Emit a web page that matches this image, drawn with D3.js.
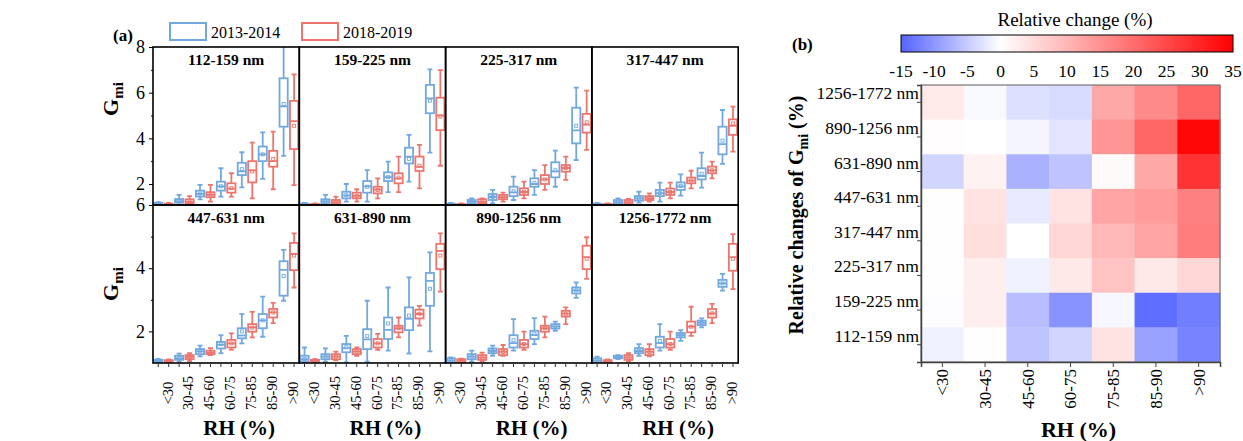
<!DOCTYPE html>
<html><head><meta charset="utf-8">
<script src="https://cdn.jsdelivr.net/npm/d3@7"></script>
<style>
html,body{margin:0;padding:0;background:#fff;}
svg{display:block;font-family:"Liberation Serif","Times New Roman",serif;}
</style></head>
<body>
<svg id="chart" width="1243" height="441"></svg>
<script>
// ---------- DATA ----------
const rhGroups = ["<30","30-45","45-60","60-75","75-85","85-90",">90"];
const sizeBins = ["112-159 nm","159-225 nm","225-317 nm","317-447 nm","447-631 nm","631-890 nm","890-1256 nm","1256-1772 nm"];
const periods = ["2013-2014","2018-2019"];
// box stats per RH group: [whiskerLow, Q1, median, Q3, whiskerHigh, mean]
const b13_112 = [[1.08,1.11,1.14,1.17,1.21,1.14],[1.08,1.18,1.25,1.34,1.52,1.26],[1.33,1.45,1.57,1.71,1.96,1.58],[1.45,1.71,1.9,2.1,2.69,1.9],[1.85,2.39,2.55,2.93,3.39,2.65],[2.22,3.0,3.3,3.64,4.26,3.3],[3.23,4.51,5.4,6.63,8.6,5.5]];
const b18_112 = [[1.08,1.1,1.12,1.14,1.17,1.12],[1.08,1.15,1.22,1.33,1.47,1.23],[1.23,1.42,1.52,1.64,1.96,1.53],[1.45,1.62,1.8,2.03,2.47,1.82],[1.37,2.07,2.6,3.0,3.81,2.55],[1.77,2.76,3.0,3.45,4.29,3.1],[1.95,3.53,4.75,5.64,6.8,4.55]];
const b13_159 = [[1.08,1.1,1.12,1.14,1.17,1.12],[1.08,1.15,1.24,1.33,1.52,1.24],[1.23,1.37,1.5,1.66,2.0,1.51],[1.23,1.62,1.9,2.13,2.61,1.88],[1.64,2.13,2.3,2.51,2.98,2.3],[2.1,2.9,3.2,3.59,4.15,3.1],[3.37,5.1,5.75,6.34,7.02,5.65]];
const b18_159 = [[1.08,1.09,1.1,1.12,1.14,1.1],[1.08,1.12,1.2,1.3,1.45,1.21],[1.23,1.37,1.48,1.62,1.77,1.48],[1.37,1.59,1.75,1.88,2.25,1.74],[1.64,2.03,2.25,2.47,3.2,2.28],[1.81,2.57,2.75,3.2,3.71,2.8],[2.8,4.36,5.0,5.78,6.99,4.95]];
const b13_225 = [[1.08,1.1,1.12,1.14,1.17,1.12],[1.08,1.15,1.22,1.3,1.37,1.22],[1.15,1.3,1.43,1.56,1.74,1.43],[1.3,1.47,1.63,1.88,2.32,1.68],[1.52,1.88,2.0,2.25,2.61,2.05],[1.88,2.29,2.55,2.95,3.46,2.6],[3.05,3.78,4.35,5.34,6.22,4.55]];
const b18_225 = [[1.08,1.09,1.1,1.12,1.14,1.1],[1.08,1.15,1.22,1.33,1.37,1.23],[1.23,1.33,1.42,1.52,1.62,1.42],[1.37,1.52,1.65,1.81,2.1,1.66],[1.74,2.0,2.2,2.39,2.83,2.2],[2.18,2.54,2.7,2.83,3.2,2.7],[3.49,4.25,4.6,5.07,6.09,4.7]];
const b13_317 = [[1.08,1.1,1.12,1.14,1.17,1.12],[1.08,1.12,1.2,1.3,1.37,1.2],[1.18,1.27,1.37,1.47,1.66,1.37],[1.23,1.47,1.6,1.74,2.06,1.6],[1.49,1.74,1.9,2.07,2.42,1.92],[1.84,2.2,2.35,2.69,3.37,2.45],[2.88,3.3,3.75,4.51,5.24,3.9]];
const b18_317 = [[1.08,1.09,1.1,1.12,1.14,1.1],[1.08,1.12,1.2,1.3,1.35,1.2],[1.23,1.3,1.38,1.47,1.59,1.38],[1.37,1.52,1.65,1.8,2.06,1.65],[1.81,2.03,2.15,2.28,2.58,2.15],[2.25,2.47,2.6,2.76,2.98,2.6],[3.42,4.15,4.55,4.83,5.39,4.65]];
const b13_447 = [[1.02,1.04,1.07,1.1,1.13,1.07],[1.04,1.1,1.15,1.23,1.3,1.16],[1.21,1.28,1.37,1.44,1.55,1.37],[1.31,1.46,1.58,1.67,1.88,1.6],[1.62,1.78,1.87,2.1,2.55,2.0],[1.83,2.1,2.35,2.55,3.1,2.35],[2.97,3.13,3.95,4.22,4.58,3.75]];
const b18_447 = [[1.03,1.05,1.07,1.09,1.11,1.07],[1.06,1.12,1.19,1.25,1.31,1.19],[1.25,1.28,1.32,1.39,1.47,1.33],[1.42,1.49,1.62,1.73,1.94,1.62],[1.81,1.99,2.13,2.23,2.62,2.12],[2.26,2.44,2.6,2.71,2.9,2.6],[3.39,3.94,4.45,4.8,5.1,4.4]];
const b13_631 = [[1.02,1.05,1.12,1.23,1.49,1.13],[1.04,1.12,1.2,1.28,1.46,1.2],[1.02,1.34,1.47,1.6,1.86,1.5],[1.04,1.44,1.75,2.07,2.97,1.85],[1.39,1.76,2.05,2.44,3.39,2.25],[1.3,2.04,2.4,2.76,3.71,2.5],[1.37,2.81,3.6,3.85,4.5,3.35]];
const b18_631 = [[1.02,1.05,1.08,1.1,1.12,1.08],[1.08,1.12,1.2,1.28,1.36,1.2],[1.23,1.28,1.36,1.44,1.49,1.36],[1.42,1.49,1.62,1.76,1.92,1.62],[1.81,1.97,2.1,2.18,2.44,2.1],[2.18,2.41,2.55,2.69,2.81,2.56],[3.26,3.97,4.55,4.77,5.1,4.4]];
const b13_890 = [[1.0,1.02,1.08,1.15,1.18,1.08],[1.04,1.12,1.2,1.28,1.39,1.2],[1.23,1.31,1.38,1.46,1.55,1.38],[1.39,1.49,1.63,1.88,2.39,1.72],[1.6,1.76,1.88,2.02,2.42,1.93],[2.02,2.09,2.16,2.23,2.31,2.16],[3.06,3.2,3.3,3.39,3.55,3.3]];
const b18_890 = [[1.01,1.02,1.07,1.12,1.14,1.07],[1.06,1.1,1.17,1.25,1.33,1.17],[1.23,1.25,1.35,1.44,1.57,1.35],[1.42,1.49,1.6,1.73,1.99,1.6],[1.81,1.99,2.1,2.18,2.47,2.1],[2.23,2.47,2.56,2.65,2.76,2.56],[3.66,3.97,4.35,4.71,4.98,4.3]];
const b13_1256 = [[1.0,1.02,1.08,1.15,1.2,1.08],[1.12,1.15,1.19,1.23,1.25,1.19],[1.23,1.31,1.38,1.47,1.6,1.39],[1.39,1.49,1.63,1.83,2.23,1.7],[1.7,1.81,1.88,1.95,2.04,1.88],[2.13,2.2,2.27,2.34,2.41,2.27],[3.29,3.41,3.52,3.63,3.82,3.52]];
const b18_1256 = [[1.02,1.03,1.06,1.09,1.11,1.06],[1.06,1.1,1.18,1.25,1.31,1.18],[1.21,1.25,1.35,1.44,1.6,1.35],[1.42,1.49,1.6,1.76,1.99,1.6],[1.86,1.97,2.15,2.31,2.78,2.15],[2.26,2.44,2.57,2.71,2.87,2.57],[3.34,3.92,4.35,4.77,5.08,4.3]];
const panelBoxes = [[b13_112,b18_112],[b13_159,b18_159],[b13_225,b18_225],[b13_317,b18_317],[b13_447,b18_447],[b13_631,b18_631],[b13_890,b18_890],[b13_1256,b18_1256]];
const topRowTicks = [2,4,6,8];
const bottomRowTicks = [2,4,6];
// heatmap: relative change (%), rows top to bottom
const heatRows = ["1256-1772 nm","890-1256 nm","631-890 nm","447-631 nm","317-447 nm","225-317 nm","159-225 nm","112-159 nm"];
const heatValues = [
  [3.0,-0.6,-3.0,-3.5,12.0,16.0,21.0],
  [0.3,0.0,-1.0,-2.5,14.5,21.0,34.0],
  [-4.0,1.8,-7.5,-5.7,0.6,12.0,28.0],
  [0.2,4.0,-2.0,4.0,12.3,13.7,17.5],
  [0.1,4.5,0.0,5.5,9.6,12.3,17.8],
  [-0.1,2.3,-1.3,3.2,8.2,3.2,5.5],
  [-0.2,2.3,-6.3,-10.5,-0.8,-14.0,-12.5],
  [-1.3,0.2,-5.7,-4.0,4.0,-9.0,-12.0]
];
const colorbarTicks = [-15,-10,-5,0,5,10,15,20,25,30,35];

// ---------- DRAW ----------
const svg = d3.select("#chart");
const blue = "rgb(114,168,224)", red = "rgb(236,118,110)";
const periodColor = d3.scaleOrdinal().domain(periods).range([blue, red]);

// Panel (a)
const ax0 = 153, ay0 = 47, pw = 146.3, ph = 158;
const x = d3.scaleBand().domain(rhGroups).range([0, pw]);
const bw = x.bandwidth();
const offs = d3.scaleOrdinal().domain(periods).range([-bw/4, bw/4]);
const boxW = 8.2, capW = 5;
const yTop = d3.scaleLinear().domain([1.08, 8]).range([ph, 0]);
const yBot = d3.scaleLinear().domain([1.0, 6]).range([ph, 0]);

const defs = svg.append("defs");
defs.append("clipPath").attr("id","pclip").append("rect").attr("x",0).attr("y",0).attr("width",pw).attr("height",ph);

sizeBins.forEach((bin, i) => {
  const r = Math.floor(i/4), c = i%4;
  const y = r === 0 ? yTop : yBot;
  const g = svg.append("g").attr("transform", `translate(${ax0 + c*pw},${ay0 + r*ph})`);
  const inner = g.append("g").attr("clip-path","url(#pclip)");
  periods.forEach((p, pi) => {
    const stats = panelBoxes[i][pi];
    const col = periodColor(p);
    stats.forEach((s, gi) => {
      const cx = x(rhGroups[gi]) + bw/2 + offs(p);
      const bg = inner.append("g").attr("stroke", col).attr("fill","none").attr("stroke-width",1.8);
      bg.append("line").attr("x1",cx).attr("x2",cx).attr("y1",y(s[0])).attr("y2",y(s[1]));
      bg.append("line").attr("x1",cx).attr("x2",cx).attr("y1",y(s[3])).attr("y2",y(s[4]));
      bg.append("line").attr("x1",cx-capW/2).attr("x2",cx+capW/2).attr("y1",y(s[0])).attr("y2",y(s[0]));
      bg.append("line").attr("x1",cx-capW/2).attr("x2",cx+capW/2).attr("y1",y(s[4])).attr("y2",y(s[4]));
      bg.append("rect").attr("x",cx-boxW/2).attr("width",boxW).attr("y",y(s[3])).attr("height",Math.max(0.5,y(s[1])-y(s[3]))).attr("fill","#fff");
      bg.append("line").attr("x1",cx-boxW/2).attr("x2",cx+boxW/2).attr("y1",y(s[2])).attr("y2",y(s[2]));
      bg.append("rect").attr("x",cx-1.5).attr("y",y(s[5])-1.5).attr("width",3).attr("height",3).attr("stroke-width",0.9);
    });
  });
  // frame
  g.append("rect").attr("width",pw).attr("height",ph).attr("fill","none").attr("stroke","#000").attr("stroke-width",1.6);
  // title
  g.append("text").attr("x",pw/2).attr("y",18).attr("text-anchor","middle").attr("font-weight","bold").attr("font-size",15.5).text(bin);
  // y axis on first column
  if (c === 0) {
    const ticks = r === 0 ? topRowTicks : bottomRowTicks;
    const ya = g.append("g").call(d3.axisLeft(y).tickValues(ticks).tickSize(4).tickFormat(d3.format("d")));
    ya.select(".domain").remove();
    ya.selectAll("text").attr("font-size",18).attr("font-family","Liberation Serif").attr("dx",-1);
    const minors = ticks.map(t=>t+1).filter(t=>t<y.domain()[1]);
    const ym = g.append("g").call(d3.axisLeft(y).tickValues(minors).tickSize(2).tickFormat(""));
    ym.select(".domain").remove();
    // axis label
    const ly = r === 0 ? 99 - ay0 : 284 - ay0 - ph;
    const t = g.append("text").attr("transform",`translate(-35,${ly}) rotate(-90)`).attr("text-anchor","middle").attr("font-weight","bold").attr("font-size",22);
    t.append("tspan").text("G");
    t.append("tspan").attr("font-size",15).attr("dy",5).text("mi");
  }
  // x axis on bottom row
  if (r === 1) {
    const tickPos = [];
    rhGroups.forEach(gr => periods.forEach(p => tickPos.push(x(gr) + bw/2 + offs(p))));
    g.selectAll("line.xt").data(tickPos).join("line").attr("class","xt")
      .attr("x1",d=>d).attr("x2",d=>d).attr("y1",ph).attr("y2",ph+4).attr("stroke","#333").attr("stroke-width",1);
    g.selectAll("text.xl").data(rhGroups).join("text").attr("class","xl")
      .attr("transform",d=>`translate(${x(d)+bw/2+4},${ph+30}) rotate(-90)`)
      .attr("text-anchor","middle").attr("dy","0.35em").attr("font-size",14.5).text(d=>d);
    g.append("text").attr("x",pw/2+13).attr("y",435-ay0-ph).attr("text-anchor","middle").attr("font-weight","bold").attr("font-size",21).text("RH (%)");
  }
});

// legend
const legendItems = [{p:periods[0], x:170, tx:211},{p:periods[1], x:302, tx:343}];
legendItems.forEach(d => {
  svg.append("rect").attr("x",d.x).attr("y",23).attr("width",36).attr("height",17).attr("fill","none").attr("stroke",periodColor(d.p)).attr("stroke-width",2);
  svg.append("text").attr("x",d.tx).attr("y",38).attr("font-size",16).text(d.p);
});
svg.append("text").attr("x",113).attr("y",41).attr("font-weight","bold").attr("font-size",17).text("(a)");

// Panel (b) heatmap
const hx0 = 921, hx1 = 1220, hy0 = 85, hy1 = 362;
const hx = d3.scaleBand().domain(rhGroups).range([hx0, hx1]);
const hy = d3.scaleBand().domain(heatRows).range([hy0, hy1]);
const heatColor = d3.scaleLinear().domain([-15,0,35]).range(["rgb(85,100,255)","#ffffff","#ff0000"]).clamp(true);
const cells = [];
heatRows.forEach((rw, ri) => rhGroups.forEach((gr, ci) => cells.push({rw, gr, v: heatValues[ri][ci]})));
svg.append("g").selectAll("rect").data(cells).join("rect")
  .attr("x",d=>hx(d.gr)).attr("y",d=>hy(d.rw)).attr("width",hx.bandwidth()+0.5).attr("height",hy.bandwidth()+0.5)
  .attr("fill",d=>heatColor(d.v));
svg.append("rect").attr("x",hx0).attr("y",hy0).attr("width",hx1-hx0).attr("height",hy1-hy0).attr("fill","none").attr("stroke","#777").attr("stroke-width",1.2);
// axes
const hxa = svg.append("g").attr("transform",`translate(0,${hy1})`).call(d3.axisBottom(hx).tickSize(5).tickFormat(""));
hxa.select(".domain").attr("stroke","#444").attr("stroke-width",1.5);
hxa.selectAll("line").attr("stroke","#444");
svg.append("g").selectAll("text").data(rhGroups).join("text")
  .attr("transform",d=>`translate(${hx(d)+hx.bandwidth()/2},${hy1+7}) rotate(-90)`)
  .attr("text-anchor","end").attr("dy","0.35em").attr("font-size",17).text(d=>d);
const hya = svg.append("g").attr("transform",`translate(${hx0},0)`).call(d3.axisLeft(hy).tickSize(4).tickFormat(""));
hya.select(".domain").attr("stroke","#444").attr("stroke-width",1.5);
hya.selectAll("line").attr("stroke","#444");
svg.append("g").selectAll("text").data(heatRows).join("text")
  .attr("x",hx0-2).attr("y",d=>hy(d)+hy.bandwidth()/2-3).attr("text-anchor","end").attr("font-size",17.5).text(d=>d);
svg.append("text").attr("x",(hx0+hx1)/2+8).attr("y",437).attr("text-anchor","middle").attr("font-weight","bold").attr("font-size",22).text("RH (%)");
const yt = svg.append("text").attr("transform",`translate(803,215) rotate(-90)`).attr("text-anchor","middle").attr("font-weight","bold").attr("font-size",20);
yt.append("tspan").text("Relative changes of G");
yt.append("tspan").attr("font-size",14).attr("dy",5).text("mi");
yt.append("tspan").attr("dy",-5).text(" (%)");
svg.append("text").attr("x",792).attr("y",50).attr("font-weight","bold").attr("font-size",17).text("(b)");

// colorbar
const cbx0 = 901, cbx1 = 1233, cby = 35, cbh = 17;
const cbScale = d3.scaleLinear().domain([-15,35]).range([cbx0, cbx1]);
const grad = defs.append("linearGradient").attr("id","cbgrad").attr("x1","0%").attr("x2","100%");
heatColor.domain().forEach(v => grad.append("stop").attr("offset", ((v+15)/50*100)+"%").attr("stop-color", heatColor(v)));
svg.append("rect").attr("x",cbx0).attr("y",cby).attr("width",cbx1-cbx0).attr("height",cbh).attr("fill","url(#cbgrad)").attr("stroke","#000").attr("stroke-width",1);
svg.append("g").selectAll("text").data(colorbarTicks).join("text")
  .attr("x",d=>cbScale(d)).attr("y",77).attr("text-anchor","middle").attr("font-size",17.5).text(d=>d);
svg.append("text").attr("x",1075).attr("y",26).attr("text-anchor","middle").attr("font-size",19).text("Relative change (%)");
</script>
</body></html>
